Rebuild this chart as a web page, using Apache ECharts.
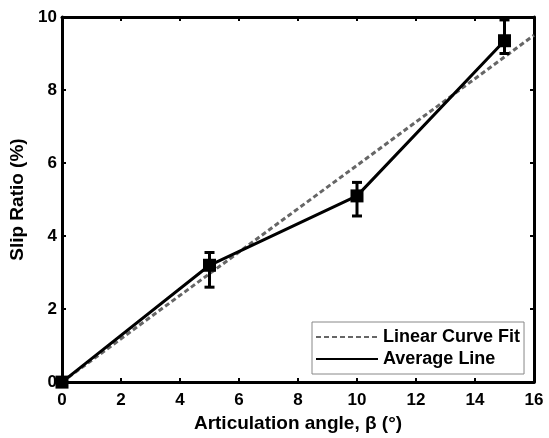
<!DOCTYPE html>
<html>
<head>
<meta charset="utf-8">
<script src="https://cdn.jsdelivr.net/npm/echarts@6/dist/echarts.min.js"></script>
<style>
  html, body { margin: 0; padding: 0; background: #fff; }
  #chart { width: 549px; height: 438px; }
</style>
</head>
<body>
<div id="chart"></div>
<script>
// measured values (slip ratio in %)
const angles = [0, 5, 10, 15]
const slipMean = [0, 3.2, 5.1, 9.35]
const slipLow = [0, 2.6, 4.55, 9.0]
const slipHigh = [0, 3.55, 5.47, 9.92]
// linear fit end points
const fitX = [0, 16]
const fitY = [0, 9.5]

const font = 'Liberation Sans, Arial, sans-serif'

const chart = echarts.init(document.getElementById('chart'))

const avgData = angles.map((x, i) => [x, slipMean[i]])
const errData = angles.map((x, i) => [x, slipLow[i], slipHigh[i]])
const fitData = fitX.map((x, i) => [x, fitY[i]])

const axisCommon = {
  type: 'value',
  interval: 2,
  axisLine: { show: true, onZero: false, lineStyle: { color: '#000', width: 3 } },
  axisTick: { show: true, inside: true, length: 4, lineStyle: { color: '#000', width: 2 } },
  splitLine: { show: false },
  axisLabel: { color: '#000', fontFamily: font, fontWeight: 'bold', fontSize: 17 }
}

const nameStyle = { color: '#000', fontFamily: font, fontWeight: 'bold', fontSize: 19 }

const option = {
  animation: false,
  backgroundColor: '#fff',
  grid: { left: 62, right: 15, top: 17, bottom: 46 },
  legend: {
    orient: 'vertical',
    left: 312,
    top: 322,
    padding: [6, 4, 6, 3],
    itemGap: 4,
    itemWidth: 62,
    itemHeight: 14,
    borderColor: '#888',
    borderWidth: 1,
    itemStyle: { opacity: 0 },
    textStyle: { color: '#000', fontFamily: font, fontWeight: 'bold', fontSize: 18 },
    data: ['Linear Curve Fit', 'Average Line']
  },
  xAxis: [
    Object.assign({}, axisCommon, {
      min: 0, max: 16,
      axisLabel: Object.assign({}, axisCommon.axisLabel, { margin: 10 }),
      name: 'Articulation angle, β (°)',
      nameLocation: 'middle',
      nameGap: 29,
      nameTextStyle: nameStyle
    }),
    Object.assign({}, axisCommon, {
      min: 0, max: 16, position: 'top',
      axisLabel: { show: false }
    })
  ],
  yAxis: [
    Object.assign({}, axisCommon, {
      min: 0, max: 10,
      axisLabel: Object.assign({}, axisCommon.axisLabel, { margin: 5 }),
      name: 'Slip Ratio (%)',
      nameLocation: 'middle',
      nameGap: 35,
      nameTextStyle: nameStyle
    }),
    Object.assign({}, axisCommon, {
      min: 0, max: 10, position: 'right',
      axisLabel: { show: false }
    })
  ],
  series: [
    {
      name: 'Linear Curve Fit',
      type: 'line',
      data: fitData,
      symbol: 'none',
      lineStyle: { color: '#666', width: 3, type: [5, 3] },
      z: 3
    },
    {
      name: 'Average Line',
      type: 'line',
      data: avgData,
      symbol: 'none',
      lineStyle: { color: '#000', width: 3 },
      z: 4
    },
    {
      type: 'scatter',
      data: avgData,
      symbol: 'rect',
      symbolSize: 13,
      itemStyle: { color: '#000', opacity: 1 },
      clip: false,
      z: 5
    },
    {
      type: 'custom',
      data: errData,
      clip: false,
      z: 5,
      renderItem: (params, api) => {
        const x = api.value(0)
        const lo = api.coord([x, api.value(1)])
        const hi = api.coord([x, api.value(2)])
        if (Math.abs(lo[1] - hi[1]) < 1) return null
        const cap = 5
        const style = { stroke: '#000', lineWidth: 3 }
        return {
          type: 'group',
          children: [
            { type: 'line', shape: { x1: lo[0], y1: lo[1], x2: hi[0], y2: hi[1] }, style },
            { type: 'line', shape: { x1: lo[0] - cap, y1: lo[1], x2: lo[0] + cap, y2: lo[1] }, style },
            { type: 'line', shape: { x1: hi[0] - cap, y1: hi[1], x2: hi[0] + cap, y2: hi[1] }, style }
          ]
        }
      }
    }
  ]
}

chart.setOption(option)
</script>
</body>
</html>
